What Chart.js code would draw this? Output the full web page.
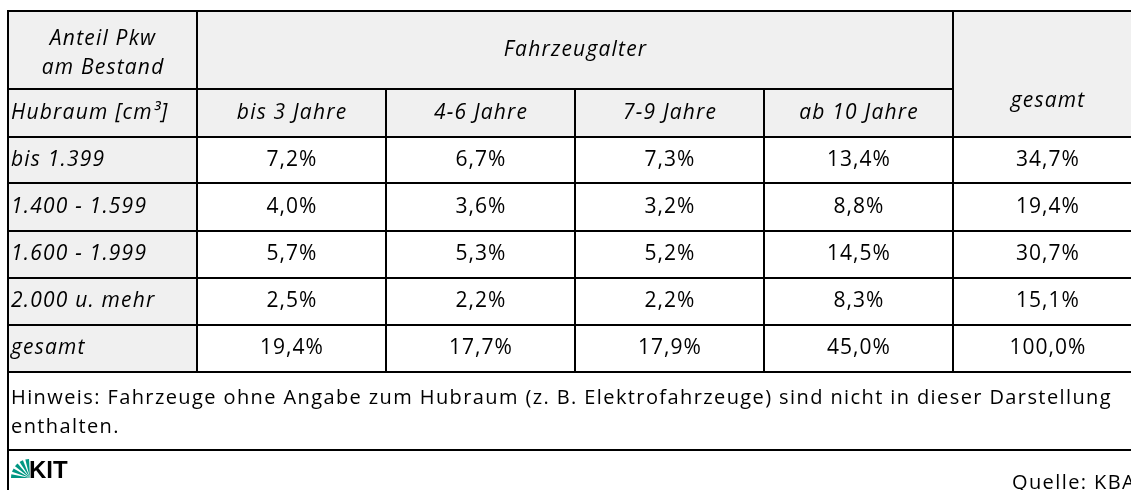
<!DOCTYPE html>
<html lang="de">
<head>
<meta charset="utf-8">
<title>Anteil Pkw am Bestand nach Hubraum und Fahrzeugalter</title>
<script src="https://cdn.jsdelivr.net/npm/chart.js@4.4.1/dist/chart.umd.min.js"></script>
<style>
  html, body { margin: 0; padding: 0; background: #fff; }
  body { width: 1131px; height: 490px; overflow: hidden; position: relative; }
  .chart-wrap { position: absolute; left: 0; top: 0; width: 1142px; height: 490px; }
</style>
</head>
<body>
<div class="chart-wrap"><canvas id="tableChart"></canvas></div>
<script>
// Data
const hubraumKlassen = ['bis 1.399', '1.400 - 1.599', '1.600 - 1.999', '2.000 u. mehr', 'gesamt'];
const altersGruppen = ['bis 3 Jahre', '4-6 Jahre', '7-9 Jahre', 'ab 10 Jahre', 'gesamt'];
const bis3Jahre = [7.2, 4.0, 5.7, 2.5, 19.4];
const jahre4bis6 = [6.7, 3.6, 5.3, 2.2, 17.7];
const jahre7bis9 = [7.3, 3.2, 5.2, 2.2, 17.9];
const ab10Jahre = [13.4, 8.8, 14.5, 8.3, 45.0];
const gesamtZeile = [34.7, 19.4, 30.7, 15.1, 100.0];
const spalten = [bis3Jahre, jahre4bis6, jahre7bis9, ab10Jahre, gesamtZeile];

const kopfLinks = ['Anteil Pkw', 'am Bestand'];
const kopfMitte = 'Fahrzeugalter';
const kopfHubraum = 'Hubraum [cm³]';
const hinweis = ['Hinweis: Fahrzeuge ohne Angabe zum Hubraum (z. B. Elektrofahrzeuge) sind nicht in dieser Darstellung', 'enthalten.'];
const quelle = 'Quelle: KBA';

// Layout (row edges in y-units, columns are 1 unit each)
const rowEdges = [0, 78, 126, 172, 220, 267, 314, 361, 439, 479];
const FONT = '"Open Sans", Lato, sans-serif';
const GRAY = '#f0f0f0';

function fmt(v) {
  return v.toFixed(1).replace('.', ',') + '%';
}

function rowCenter(r) {
  return (rowEdges[r] + rowEdges[r + 1]) / 2;
}

// one invisible point per value cell, placed through the scales
const datasets = spalten.map((werte, c) => ({
  label: altersGruppen[c],
  data: werte.map((v, r) => ({ x: c + 1.5, y: rowCenter(r + 2), v: v })),
  pointRadius: 0,
  pointHoverRadius: 0,
  showLine: false
}));

const tablePlugin = {
  id: 'tablePlugin',
  beforeDatasetsDraw(chart) {
    const ctx = chart.ctx;
    const xs = chart.scales.x;
    const ys = chart.scales.y;
    const X = v => xs.getPixelForValue(v);
    const Y = v => ys.getPixelForValue(v);

    ctx.save();
    // grey header and first column
    ctx.fillStyle = GRAY;
    ctx.fillRect(X(0), Y(0), X(6) - X(0), Y(rowEdges[2]) - Y(0));
    ctx.fillRect(X(0), Y(rowEdges[2]), X(1) - X(0), Y(rowEdges[7]) - Y(rowEdges[2]));

    ctx.strokeStyle = '#000';
    ctx.lineWidth = 2;
    function h(x0, x1, y) {
      ctx.beginPath();
      ctx.moveTo(X(x0) - 1, Math.round(Y(y)));
      ctx.lineTo(X(x1) + 1, Math.round(Y(y)));
      ctx.stroke();
    }
    function v(x, y0, y1) {
      ctx.beginPath();
      ctx.moveTo(Math.round(X(x)), Y(y0) - 1);
      ctx.lineTo(Math.round(X(x)), Y(y1));
      ctx.stroke();
    }
    h(0, 6, rowEdges[0]);
    h(0, 5, rowEdges[1]);
    for (let r = 2; r <= 8; r++) h(0, 6, rowEdges[r]);
    v(0, rowEdges[0], rowEdges[9]);
    v(1, rowEdges[0], rowEdges[7]);
    v(2, rowEdges[1], rowEdges[7]);
    v(3, rowEdges[1], rowEdges[7]);
    v(4, rowEdges[1], rowEdges[7]);
    v(5, rowEdges[0], rowEdges[7]);
    v(6, rowEdges[0], rowEdges[7]);
    ctx.restore();
  },
  afterDatasetsDraw(chart) {
    const ctx = chart.ctx;
    const xs = chart.scales.x;
    const ys = chart.scales.y;
    const X = v => xs.getPixelForValue(v);
    const Y = v => ys.getPixelForValue(v);

    ctx.save();
    ctx.fillStyle = '#000';
    ctx.textBaseline = 'middle';

    // centred text with letter spacing (drop the trailing gap)
    function centred(txt, x, y, sp) {
      ctx.textAlign = 'center';
      ctx.fillText(txt, x + sp / 2, y);
    }

    // header
    const sp = 1.2;
    ctx.font = 'italic 21px ' + FONT;
    ctx.letterSpacing = sp + 'px';
    centred(kopfLinks[0], X(0.5), Y(28), sp);
    centred(kopfLinks[1], X(0.5), Y(57), sp);
    centred(kopfMitte, X(3), Y(rowCenter(0)), sp);
    centred(altersGruppen[4], X(5.5), Y(90), sp);
    for (let c = 0; c < 4; c++) {
      centred(altersGruppen[c], X(c + 1.5), Y(rowCenter(1)), sp);
    }
    ctx.textAlign = 'left';
    ctx.fillText(kopfHubraum, X(0) + 3, Y(rowCenter(1)));
    hubraumKlassen.forEach((k, r) => {
      ctx.fillText(k, X(0) + 3, Y(rowCenter(r + 2)));
    });

    // values, at the points of each dataset
    ctx.font = '21px ' + FONT;
    ctx.letterSpacing = '1px';
    chart.data.datasets.forEach((ds, i) => {
      chart.getDatasetMeta(i).data.forEach((pt, j) => {
        centred(fmt(ds.data[j].v), pt.x, pt.y, 1);
      });
    });

    // note
    ctx.textAlign = 'left';
    ctx.font = '20px ' + FONT;
    ctx.letterSpacing = '1.4px';
    ctx.fillText(hinweis[0], X(0) + 3, Y(387));
    ctx.fillText(hinweis[1], X(0) + 3, Y(416));

    // source
    ctx.fillText(quelle, 1012, Y(472));
    ctx.letterSpacing = '0px';

    // KIT logo
    const lx = X(0) + 22, ly = Y(467);
    ctx.fillStyle = '#009682';
    for (let k = 0; k < 5; k++) {
      const a0 = Math.PI + k * 0.33;
      const a1 = a0 + 0.2;
      ctx.beginPath();
      ctx.moveTo(lx, ly);
      ctx.arc(lx, ly, 19, a0, a1);
      ctx.closePath();
      ctx.fill();
    }
    ctx.fillStyle = '#000';
    ctx.font = 'bold 24px "Liberation Sans", Arial, sans-serif';
    ctx.textBaseline = 'alphabetic';
    ctx.fillText('KIT', lx - 1, ly);
    ctx.restore();
  }
};

new Chart(document.getElementById('tableChart').getContext('2d'), {
  type: 'scatter',
  data: { datasets: datasets },
  options: {
    responsive: true,
    maintainAspectRatio: false,
    animation: false,
    events: [],
    layout: { padding: { left: 8, top: 11, right: 0, bottom: 0 } },
    scales: {
      x: { type: 'linear', display: false, min: 0, max: 6 },
      y: { type: 'linear', display: false, min: 0, max: 479, reverse: true }
    },
    plugins: {
      legend: { display: false },
      tooltip: { enabled: false }
    }
  },
  plugins: [tablePlugin]
});
</script>
</body>
</html>
